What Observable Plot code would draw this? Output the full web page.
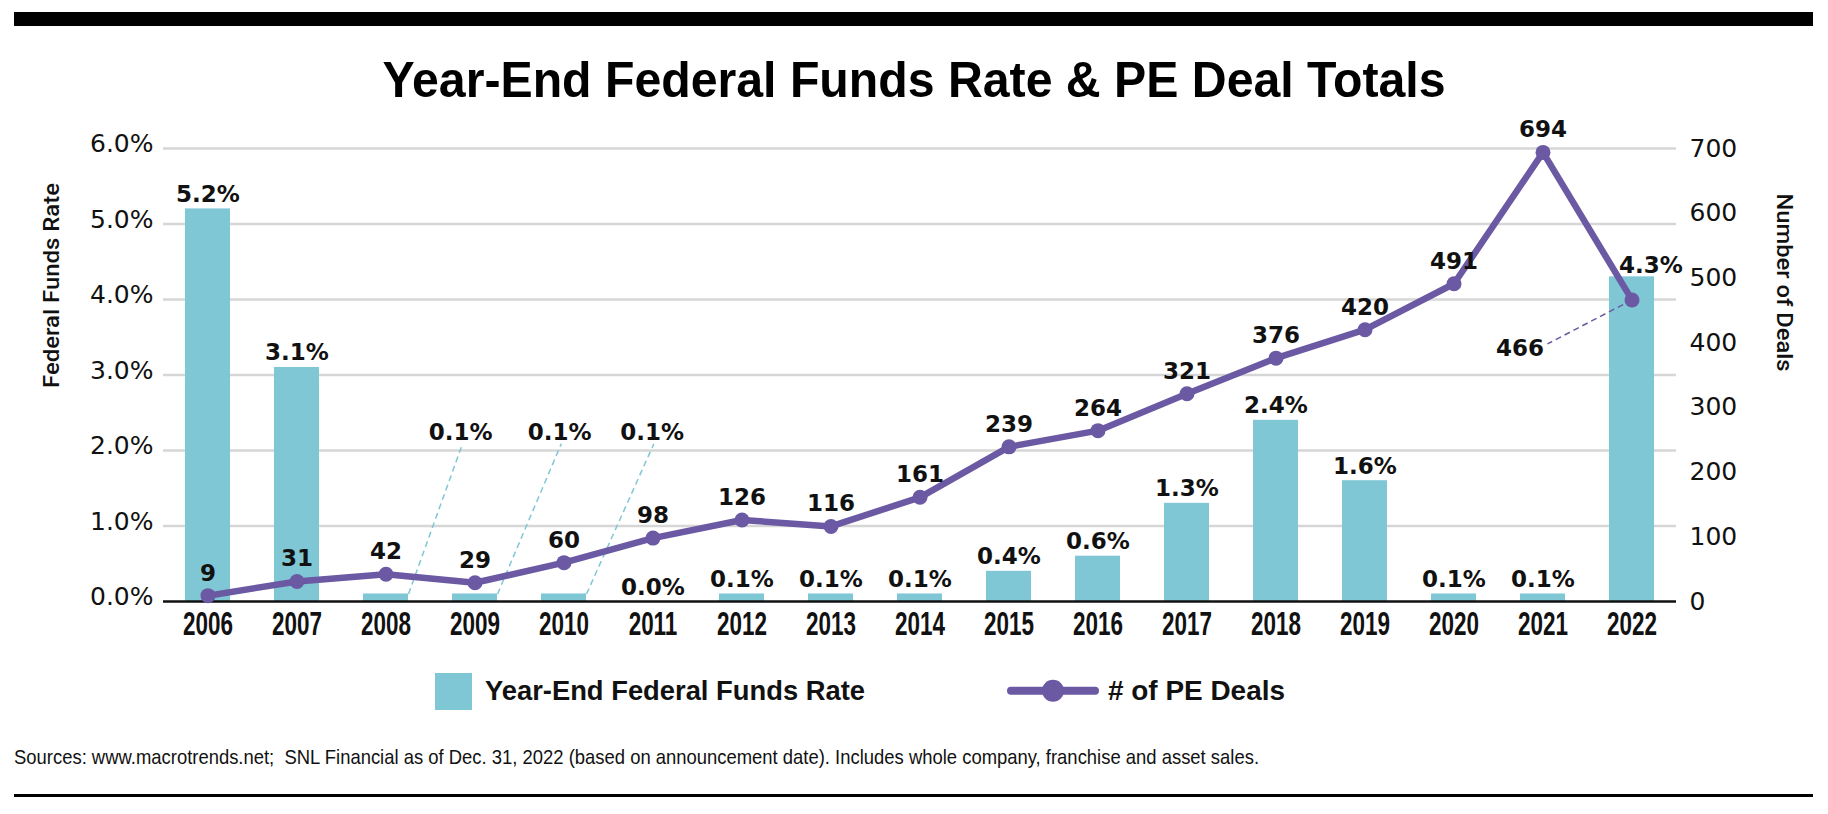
<!DOCTYPE html>
<html>
<head>
<meta charset="utf-8">
<script src="https://cdn.jsdelivr.net/npm/d3@7"></script>
<script src="https://cdn.jsdelivr.net/npm/@observablehq/plot@0.6"></script>
<style>
  html, body { margin: 0; padding: 0; background: #fff; }
  #wrap { position: relative; width: 1828px; height: 814px; overflow: hidden; }
  #wrap > svg, #chart { position: absolute; left: 0; }
  #chart { top: 110px; }
</style>
</head>
<body>
<div id="wrap"><div id="chart"></div></div>
<script>
// ---------------- data ----------------
const years = [2006, 2007, 2008, 2009, 2010, 2011, 2012, 2013, 2014, 2015, 2016, 2017, 2018, 2019, 2020, 2021, 2022];
const fedFundsRate = [5.2, 3.1, 0.1, 0.1, 0.1, 0.0, 0.1, 0.1, 0.1, 0.4, 0.6, 1.3, 2.4, 1.6, 0.1, 0.1, 4.3];
const peDeals = [9, 31, 42, 29, 60, 98, 126, 116, 161, 239, 264, 321, 376, 420, 491, 694, 466];
const rateTicks = [0, 1, 2, 3, 4, 5, 6];
const dealTicks = [0, 100, 200, 300, 400, 500, 600, 700];

const titleText = "Year-End Federal Funds Rate & PE Deal Totals";
const leftAxisTitle = "Federal Funds Rate";
const rightAxisTitle = "Number of Deals";
const legendBar = "Year-End Federal Funds Rate";
const legendLine = "# of PE Deals";
const sourceText = "Sources: www.macrotrends.net;  SNL Financial as of Dec. 31, 2022 (based on announcement date). Includes whole company, franchise and asset sales.";

// ---------------- styling ----------------
const TEAL = "#80c7d6";
const PURPLE = "#6b59a3";
const INK = "#111";
const LABEL_FONT = "'DejaVu Sans', Verdana, sans-serif";
const TICK_FONT = "'DejaVu Sans', Verdana, sans-serif";
const YEAR_FONT = "'Liberation Sans Narrow', 'Liberation Sans', Arial, sans-serif";
const HEAD_FONT = "'Liberation Sans', Arial, sans-serif";

const rateMax = d3.max(rateTicks);
const dealMax = d3.max(dealTicks);
const toRate = v => v * rateMax / dealMax;   // deals mapped onto the shared vertical scale
const pct = v => v.toFixed(1) + "%";

const rows = years.map((year, i) => ({year, rate: fedFundsRate[i], deals: peDeals[i]}));

// annotation layout (callouts for tiny bars and the last point)
const calloutYears = [2008, 2009, 2010];
const calloutShift = {2008: 0.84, 2009: 0.95, 2010: 0.99};
const calloutLevel = 2.14;
const lastYear = d3.max(years);
const isCallout = d => calloutYears.includes(d.year);

const bold = {fontFamily: LABEL_FONT, fontWeight: 700, fontSize: 23, fill: INK};

const plot = Plot.plot({
  width: 1828,
  height: 540,
  marginLeft: 163,
  marginRight: 152,
  marginTop: 38,
  marginBottom: 49,
  x: {domain: [years[0] - 0.5, lastYear + 0.5]},
  y: {domain: [0, rateMax]},
  style: {background: "transparent", overflow: "visible", color: INK, fontFamily: TICK_FONT},
  marks: [
    Plot.ruleY(rateTicks.filter(d => d > 0), {stroke: "#d6d6d6", strokeWidth: 2.5}),
    Plot.rectY(rows, {x1: d => d.year - 0.5, x2: d => d.year + 0.5, y1: 0, y2: "rate", insetLeft: 22, insetRight: 22, fill: TEAL}),
    Plot.ruleY([0], {stroke: INK, strokeWidth: 2.5}),
    Plot.axisY(rateTicks, {anchor: "left", tickSize: 0, tickPadding: 10, tickFormat: pct, label: null,
      fontSize: 25, fontWeight: 400, fontFamily: TICK_FONT, fill: INK, dy: -4.5}),
    Plot.axisY(dealTicks.map(toRate), {anchor: "right", tickSize: 0, tickPadding: 13,
      tickFormat: d => String(Math.round(d * dealMax / rateMax)), label: null,
      fontSize: 25, fontWeight: 400, fontFamily: TICK_FONT, fill: INK}),
    Plot.axisX(years, {tickSize: 0, tickPadding: 10, tickFormat: d => String(d), label: null,
      fontSize: 33, fontWeight: 700, fontFamily: YEAR_FONT, fill: INK}),
    Plot.text([leftAxisTitle], {text: d => d, frameAnchor: "left", rotate: -90, dx: -112, dy: 13,
      fontFamily: "Roboto, 'Liberation Sans', sans-serif", fontWeight: 500, fontSize: 22, fill: INK}),
    Plot.text([rightAxisTitle], {text: d => d, frameAnchor: "right", rotate: 90, dx: 108, dy: -3.5,
      fontFamily: "Roboto, 'Liberation Sans', sans-serif", fontWeight: 500, fontSize: 22, fill: INK}),
    // leader lines for the tiny bars
    Plot.link(rows.filter(isCallout), {
      x1: d => d.year + 0.253, y1: "rate",
      x2: d => d.year + calloutShift[d.year] + 0.02, y2: calloutLevel - 0.05,
      stroke: TEAL, strokeWidth: 1.5, strokeDasharray: "6,4"}),
    // leader for the last deal count
    Plot.link(rows.filter(d => d.year === lastYear), {
      x1: "year", y1: d => toRate(d.deals),
      x2: d => d.year - 0.95, y2: d => toRate(d.deals - 68),
      stroke: PURPLE, strokeWidth: 1.5, strokeDasharray: "6,4"}),
    Plot.line(rows, {x: "year", y: d => toRate(d.deals), stroke: PURPLE, strokeWidth: 6.5, strokeLinejoin: "round"}),
    Plot.dot(rows, {x: "year", y: d => toRate(d.deals), r: 7.5, fill: PURPLE}),
    // bar value labels
    Plot.text(rows.filter(d => !isCallout(d) && d.year !== lastYear), {x: "year", y: "rate", text: d => pct(d.rate), lineAnchor: "bottom", dy: -7, ...bold}),
    Plot.text(rows.filter(d => d.year === lastYear), {x: "year", y: "rate", text: d => pct(d.rate), lineAnchor: "bottom", dx: 19, dy: -4, ...bold}),
    Plot.text(rows.filter(isCallout), {x: d => d.year + calloutShift[d.year], y: calloutLevel, text: d => pct(d.rate), lineAnchor: "bottom", ...bold}),
    // deal labels
    Plot.text(rows.filter(d => d.year !== lastYear), {x: "year", y: d => toRate(d.deals), text: d => String(d.deals), lineAnchor: "bottom", dy: -15, ...bold}),
    Plot.text(rows.filter(d => d.year === lastYear), {x: "year", y: d => toRate(d.deals), text: d => String(d.deals), lineAnchor: "bottom", textAnchor: "end", dx: -88, dy: 56, ...bold})
  ]
});
document.getElementById("chart").appendChild(plot);

// condense the year labels like the reference's narrow type
(function () {
  const ticks = Array.from(plot.querySelectorAll('g[aria-label="x-axis tick label"] text'));
  if (ticks.length) {
    const w = ticks[0].getBBox().width || 1;
    const s = Math.min(1, 50 / w);
    for (const t of ticks) {
      const tr = t.getAttribute("transform") || "";
      const x = +t.getAttribute("x") || 0, y = +t.getAttribute("y") || 0;
      t.setAttribute("transform", `${tr} translate(${x},${y}) scale(${s},1) translate(${-x},${-y})`);
    }
  }
  for (const t of plot.querySelectorAll("text")) {
    if (t.textContent === leftAxisTitle) { t.setAttribute("textLength", 205); t.setAttribute("lengthAdjust", "spacingAndGlyphs"); }
    if (t.textContent === rightAxisTitle) { t.setAttribute("textLength", 178); t.setAttribute("lengthAdjust", "spacingAndGlyphs"); }
  }
})();

// ---------------- header ----------------
const wrap = d3.select("#wrap");
const head = wrap.append("svg").attr("width", 1828).attr("height", 110).style("top", "0px");
head.append("rect").attr("x", 14).attr("y", 12).attr("width", 1799).attr("height", 14).attr("fill", "#000");
head.append("text").attr("x", 914).attr("y", 97).attr("text-anchor", "middle")
  .attr("font-family", HEAD_FONT).attr("font-weight", 700).attr("font-size", 50)
  .attr("textLength", 1063).attr("lengthAdjust", "spacingAndGlyphs").attr("fill", "#000")
  .text(titleText);

// ---------------- legend + caption ----------------
const foot = wrap.append("svg").attr("width", 1828).attr("height", 164).style("top", "650px");
foot.append("rect").attr("x", 435).attr("y", 23).attr("width", 37).attr("height", 37).attr("fill", TEAL);
foot.append("text").attr("x", 485).attr("y", 50)
  .attr("font-family", HEAD_FONT).attr("font-weight", 700).attr("font-size", 27)
  .attr("textLength", 380).attr("lengthAdjust", "spacingAndGlyphs").attr("fill", INK).text(legendBar);
foot.append("line").attr("x1", 1011).attr("x2", 1095).attr("y1", 40.7).attr("y2", 40.7)
  .attr("stroke", PURPLE).attr("stroke-width", 8).attr("stroke-linecap", "round");
foot.append("circle").attr("cx", 1053).attr("cy", 40.7).attr("r", 11).attr("fill", PURPLE);
foot.append("text").attr("x", 1108).attr("y", 50)
  .attr("font-family", HEAD_FONT).attr("font-weight", 700).attr("font-size", 27)
  .attr("textLength", 177).attr("lengthAdjust", "spacingAndGlyphs").attr("fill", INK).text(legendLine);
foot.append("text").attr("x", 14).attr("y", 114).style("white-space", "pre")
  .attr("font-family", YEAR_FONT).attr("font-size", 21)
  .attr("textLength", 1245).attr("lengthAdjust", "spacingAndGlyphs").attr("fill", INK).text(sourceText);
foot.append("rect").attr("x", 14).attr("y", 144).attr("width", 1799).attr("height", 3).attr("fill", "#000");
</script>
</body>
</html>
